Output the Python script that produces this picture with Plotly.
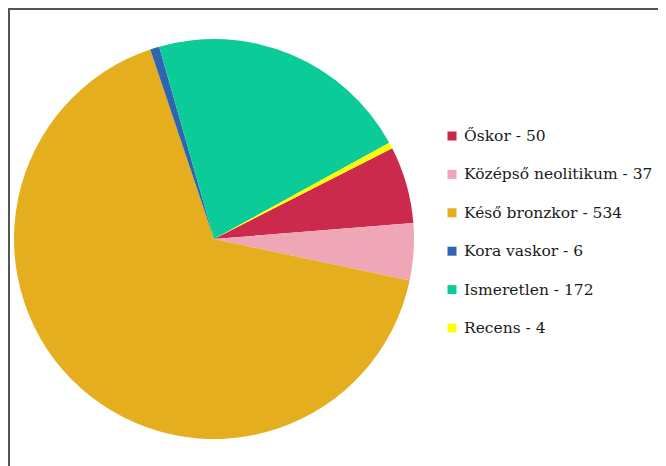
import plotly.graph_objects as go

labels = ["Őskor", "Középső neolitikum", "Késő bronzkor", "Kora vaskor", "Ismeretlen", "Recens"]
values = [50, 37, 534, 6, 172, 4]
colors = ["#cc2a4c", "#efa7b7", "#e4ae1f", "#2f65b0", "#0bcc98", "#ffff00"]

W, H = 666, 466
fig = go.Figure()

fig.add_trace(go.Pie(
    labels=labels, values=values, sort=False, direction="clockwise", rotation=63,
    marker=dict(colors=colors, line=dict(width=0)),
    textinfo="none", showlegend=False,
    domain=dict(x=[6 / W, 406 / W], y=[(H - 431) / H, (H - 31) / H]),
))

# custom legend (text from the data arrays)
row0, gap = 128, 38.4
shapes = []
annotations = []
for i, (lab, val, col) in enumerate(zip(labels, values, colors)):
    yc = row0 + i * gap
    shapes.append(dict(type="rect", xref="paper", yref="paper",
                       x0=439.5 / W, x1=448.5 / W, y0=1 - (yc + 4.5) / H, y1=1 - (yc - 4.5) / H,
                       fillcolor=col, line=dict(width=0)))
    annotations.append(dict(xref="paper", yref="paper", x=453.5 / W, y=1 - yc / H,
                            xanchor="left", yanchor="middle", showarrow=False,
                            text=f"{lab} - {val}",
                            font=dict(family="DejaVu Serif, serif", size=15.5, color="#1a1a1a")))

shapes += [
    dict(type="line", xref="paper", yref="paper", x0=0, x1=1, y0=1 - 1 / H, y1=1 - 1 / H,
         line=dict(color="#555", width=2)),
    dict(type="line", xref="paper", yref="paper", x0=1 / W, x1=1 / W, y0=1, y1=0,
         line=dict(color="#555", width=2)),
]

fig.update_layout(
    width=W, height=H,
    margin=dict(l=0, r=0, t=0, b=0),
    paper_bgcolor="white", plot_bgcolor="white",
    showlegend=False,
    shapes=shapes, annotations=annotations,
)

fig.write_html("out.html")
